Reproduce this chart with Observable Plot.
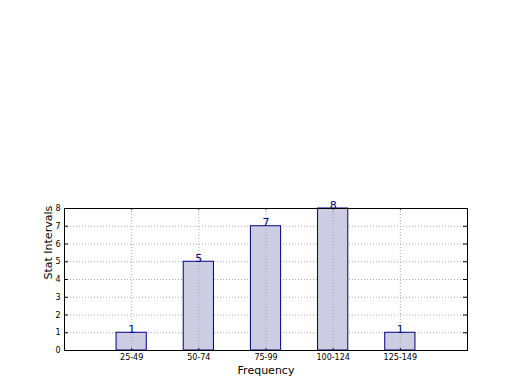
<!DOCTYPE html>
<html><head><meta charset="utf-8">
<script src="https://cdn.jsdelivr.net/npm/d3@7"></script>
<script src="https://cdn.jsdelivr.net/npm/@observablehq/plot@0.6"></script>
<style>body{margin:0;background:#fff}</style>
</head><body><div id="chart"></div>
<script>
const categories = ["25-49", "50-74", "75-99", "100-124", "125-149"];
const counts = [1, 5, 7, 8, 1];
const yTicks = [0, 1, 2, 3, 4, 5, 6, 7, 8];

const data = categories.map((c, i) => ({cat: c, pos: i + 1, n: counts[i]}));
const positions = data.map(d => d.pos);
const hw = 0.225;
const tk = 0.06; // tick length in x units
const tky = 0.11; // tick length in y units

const chart = Plot.plot({
  width: 520, height: 390,
  marginLeft: 64, marginRight: 53, marginTop: 208, marginBottom: 40,
  style: {fontFamily: "DejaVu Sans", background: "#fff"},
  x: {domain: [0, 6], label: null},
  y: {domain: [0, 8], label: null},
  marks: [
    Plot.ruleY(yTicks, {stroke: "#aaa", strokeDasharray: "1,2", strokeWidth: 1}),
    Plot.ruleX(positions, {stroke: "#aaa", strokeDasharray: "1,2", strokeWidth: 1}),
    Plot.rect(data, {x1: d => d.pos - hw, x2: d => d.pos + hw, y1: 0, y2: "n", fill: "#ccccE3", stroke: "#000080", strokeWidth: 1}),
    Plot.ruleX(positions, {stroke: "#aaa", strokeDasharray: "1,2", strokeWidth: 1, y1: 0, y2: d => counts[d - 1]}),
    Plot.text(data, {x: "pos", y: "n", text: d => String(d.n), fill: "#000080", fontSize: 11, lineAnchor: "bottom", dy: 0}),
    Plot.ruleY(yTicks, {x1: 0, x2: tk, stroke: "#000"}),
    Plot.ruleY(yTicks, {x1: 6 - tk, x2: 6, stroke: "#000"}),
    Plot.ruleX(positions, {y1: 0, y2: tky, stroke: "#000"}),
    Plot.ruleX(positions, {y1: 8 - tky, y2: 8, stroke: "#000"}),
    Plot.axisY({ticks: yTicks, tickSize: 0, tickPadding: 4, fontSize: 8, label: null, tickFormat: d => String(d)}),
    Plot.axisX({ticks: positions, tickSize: 0, tickPadding: 4, fontSize: 8, label: null, tickFormat: d => categories[d - 1]}),
    Plot.frame({stroke: "#000", strokeWidth: 1}),
    Plot.text(["Frequency"], {frameAnchor: "bottom", dy: 23, fontSize: 11, fill: "#000"}),
    Plot.text(["Stat Intervals"], {frameAnchor: "left", dx: -16, rotate: -90, fontSize: 11, fill: "#000"})
  ]
});
document.getElementById("chart").append(chart);
</script>
</body></html>
